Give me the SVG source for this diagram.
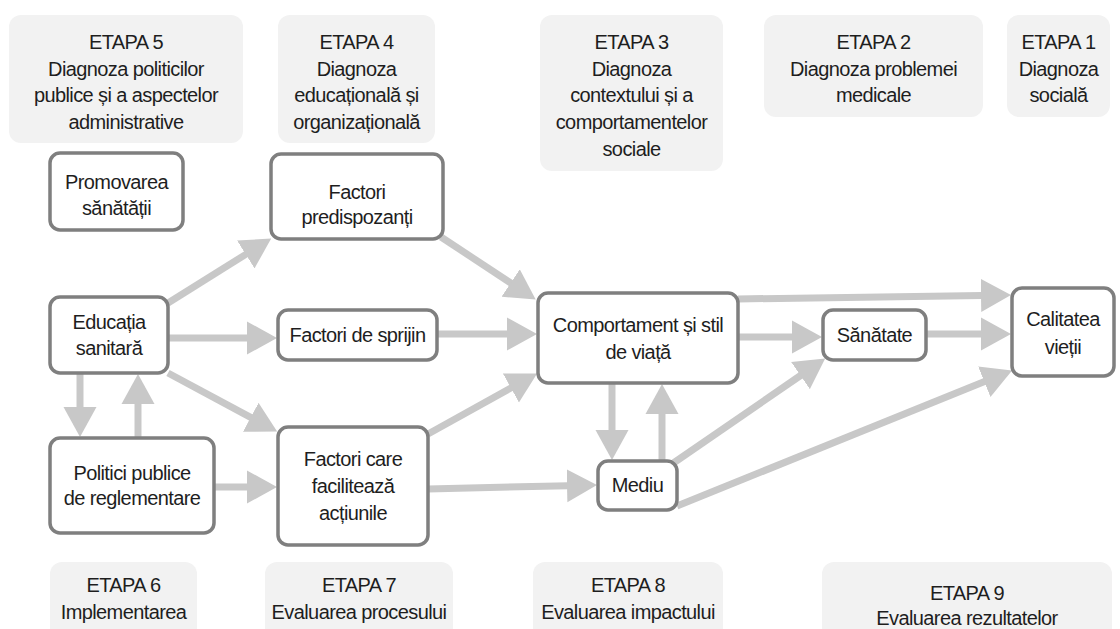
<svg xmlns="http://www.w3.org/2000/svg" width="1120" height="629" viewBox="0 0 1120 629">
<style>
.stage{fill:#f2f2f2;stroke:none}
.node{fill:#ffffff;stroke:#7f7f7f;stroke-width:3.5}
text{font-family:"Liberation Sans",Arial,sans-serif;font-size:20px;letter-spacing:-0.6px;fill:#1e1e1e;text-anchor:middle}
.c{stroke:#c8c8c8;stroke-width:7;fill:none;marker-end:url(#ah)}
</style>
<defs>
<marker id="ah" markerUnits="userSpaceOnUse" viewBox="0 -17 30 34" markerWidth="30" markerHeight="34" refX="1" refY="0" orient="auto">
<path d="M0,-16.5 L30,0 L0,16.5 z" fill="#c8c8c8"/>
</marker>
</defs>
<rect width="1120" height="629" fill="#ffffff"/>

<g id="etapa5"><rect class="stage" x="9" y="15" width="234" height="128" rx="12"/>
<text x="126" y="49">ETAPA 5</text><text x="126" y="75.5">Diagnoza politicilor</text><text x="126" y="102">publice și a aspectelor</text><text x="126" y="129">administrative</text></g>
<g id="etapa4"><rect class="stage" x="278" y="15" width="157" height="128" rx="12"/>
<text x="356.5" y="49">ETAPA 4</text><text x="356.5" y="75.5">Diagnoza</text><text x="356.5" y="102">educațională și</text><text x="356.5" y="129">organizațională</text></g>
<g id="etapa3"><rect class="stage" x="540" y="15" width="183" height="156" rx="12"/>
<text x="631.5" y="49">ETAPA 3</text><text x="631.5" y="75.5">Diagnoza</text><text x="631.5" y="102">contextului și a</text><text x="631.5" y="129">comportamentelor</text><text x="631.5" y="155.5">sociale</text></g>
<g id="etapa2"><rect class="stage" x="764" y="15" width="219" height="102" rx="12"/>
<text x="873.5" y="49">ETAPA 2</text><text x="873.5" y="75.5">Diagnoza problemei</text><text x="873.5" y="102">medicale</text></g>
<g id="etapa1"><rect class="stage" x="1007" y="15" width="103" height="102" rx="12"/>
<text x="1058.5" y="49">ETAPA 1</text><text x="1058.5" y="75.5">Diagnoza</text><text x="1058.5" y="102">socială</text></g>

<g id="etapa6"><rect class="stage" x="50" y="562" width="147" height="80" rx="12"/>
<text x="123.5" y="592">ETAPA 6</text><text x="123.5" y="619">Implementarea</text></g>
<g id="etapa7"><rect class="stage" x="265" y="562" width="188" height="80" rx="12"/>
<text x="359" y="592">ETAPA 7</text><text x="359" y="619">Evaluarea procesului</text></g>
<g id="etapa8"><rect class="stage" x="533" y="562" width="190" height="80" rx="12"/>
<text x="628" y="592">ETAPA 8</text><text x="628" y="619">Evaluarea impactului</text></g>
<g id="etapa9"><rect class="stage" x="822" y="562" width="290" height="80" rx="12"/>
<text x="967" y="600">ETAPA 9</text><text x="967" y="625">Evaluarea rezultatelor</text></g>

<g id="connectors">
<line class="c" x1="168" y1="303" x2="246.6" y2="253.9"/>
<line class="c" x1="168" y1="338" x2="248" y2="338"/>
<line class="c" x1="168" y1="373" x2="251.6" y2="417.8"/>
<line class="c" x1="80" y1="373" x2="80" y2="408"/>
<line class="c" x1="138" y1="438" x2="138" y2="403"/>
<line class="c" x1="214" y1="487" x2="248" y2="487"/>
<line class="c" x1="441" y1="237" x2="511.5" y2="283.5"/>
<line class="c" x1="437" y1="334" x2="508" y2="334"/>
<line class="c" x1="428" y1="434" x2="511.8" y2="387.5"/>
<line class="c" x1="428" y1="489" x2="568" y2="485.7"/>
<line class="c" x1="738" y1="299" x2="982" y2="295.4"/>
<line class="c" x1="738" y1="337" x2="793" y2="337"/>
<line class="c" x1="926" y1="334" x2="982" y2="334"/>
<line class="c" x1="612" y1="383" x2="612" y2="431"/>
<line class="c" x1="662" y1="461" x2="662" y2="413"/>
<line class="c" x1="672" y1="464" x2="801.3" y2="375"/>
<line class="c" x1="677" y1="506" x2="985.2" y2="381.3"/>
</g>

<g id="promovarea"><rect class="node" x="50" y="153" width="133" height="77" rx="10"/>
<text x="116.5" y="189">Promovarea</text><text x="116.5" y="215">sănătății</text></g>
<g id="factori-predispozanti"><rect class="node" x="271" y="154" width="172" height="85" rx="10"/>
<text x="357" y="199">Factori</text><text x="357" y="224">predispozanți</text></g>
<g id="educatia"><rect class="node" x="50" y="297" width="118" height="76" rx="10"/>
<text x="109" y="329">Educația</text><text x="109" y="355">sanitară</text></g>
<g id="factori-sprijin"><rect class="node" x="278" y="310" width="159" height="50" rx="10"/>
<text x="357.5" y="342">Factori de sprijin</text></g>
<g id="comportament"><rect class="node" x="538" y="293" width="200" height="90" rx="10"/>
<text x="638" y="332">Comportament și stil</text><text x="638" y="359">de viață</text></g>
<g id="sanatate"><rect class="node" x="823" y="310" width="103" height="50" rx="10"/>
<text x="874.5" y="342">Sănătate</text></g>
<g id="calitatea"><rect class="node" x="1012" y="288" width="102" height="88" rx="10"/>
<text x="1063" y="326">Calitatea</text><text x="1063" y="354">vieții</text></g>
<g id="politici"><rect class="node" x="50" y="438" width="164" height="95" rx="10"/>
<text x="132" y="480">Politici publice</text><text x="132" y="505">de reglementare</text></g>
<g id="factori-care"><rect class="node" x="278" y="427" width="150" height="118" rx="10"/>
<text x="353" y="466">Factori care</text><text x="353" y="493">facilitează</text><text x="353" y="520">acțiunile</text></g>
<g id="mediu"><rect class="node" x="598" y="461" width="79" height="49" rx="10"/>
<text x="637.5" y="492">Mediu</text></g>
</svg>
